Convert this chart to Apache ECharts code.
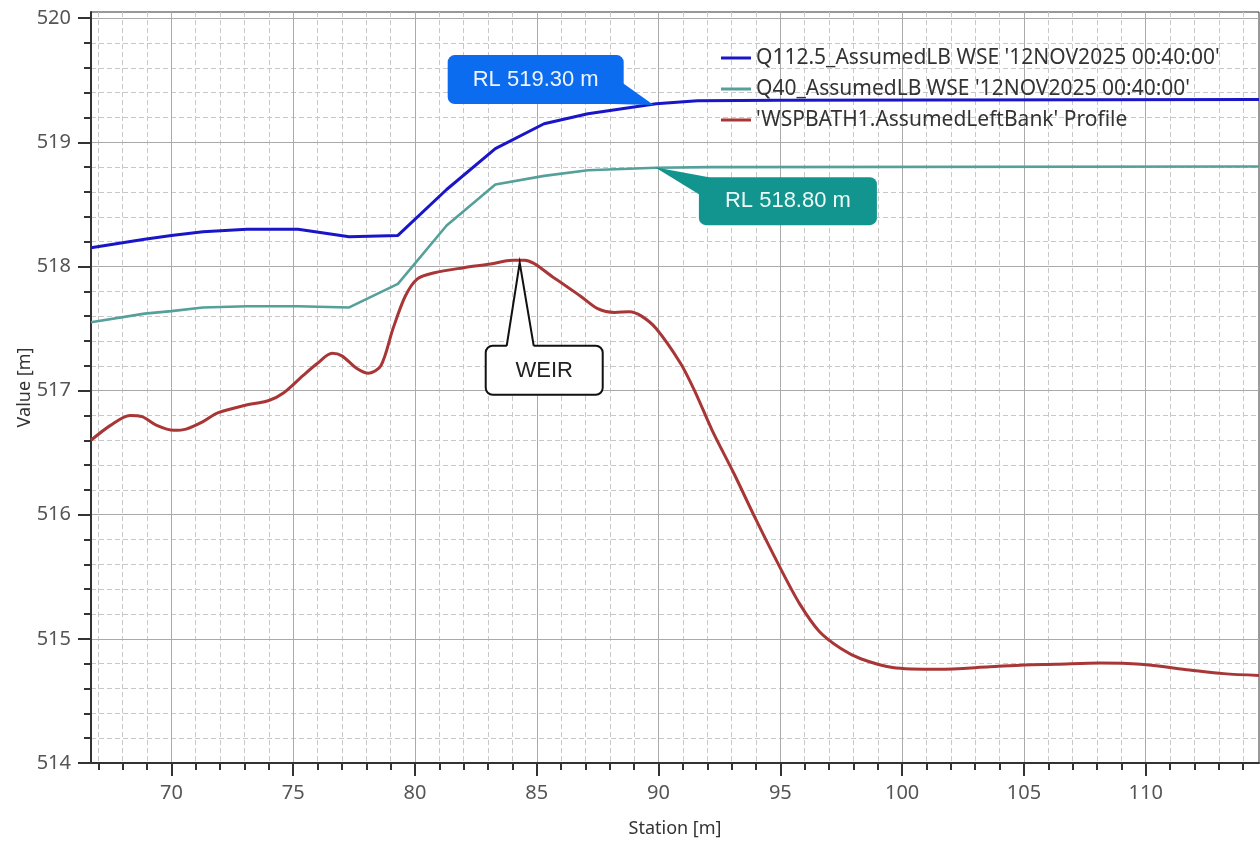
<!DOCTYPE html>
<html>
<head>
<meta charset="utf-8">
<script src="https://cdn.jsdelivr.net/npm/echarts@6/dist/echarts.min.js"></script>
<style>
html,body{margin:0;padding:0;background:#fff;}
#chart{width:1260px;height:843px;}
</style>
</head>
<body>
<div id="chart"></div>
<script>
// ---- Data ----
const seriesNames = [
  "Q112.5_AssumedLB WSE '12NOV2025 00:40:00'",
  "Q40_AssumedLB WSE '12NOV2025 00:40:00'",
  "'WSPBATH1.AssumedLeftBank' Profile"
];
const q112Station = [66.7, 68.9, 70.0, 71.3, 73.1, 75.2, 77.3, 79.3, 81.3, 83.3, 85.3, 87.1, 89.9, 91.6, 95.0, 114.65];
const q112Value   = [518.15, 518.22, 518.25, 518.28, 518.30, 518.30, 518.24, 518.25, 518.62, 518.95, 519.15, 519.23, 519.31, 519.335, 519.34, 519.345];
const q40Station  = [66.7, 68.9, 70.0, 71.3, 73.1, 75.2, 77.3, 79.3, 81.3, 83.3, 85.3, 87.1, 89.9, 92.1, 114.65];
const q40Value    = [517.55, 517.62, 517.64, 517.67, 517.68, 517.68, 517.67, 517.86, 518.33, 518.66, 518.73, 518.775, 518.795, 518.80, 518.805];
const profileStation = [66.7, 67.5, 68.3, 68.8, 69.4, 70.1, 70.6, 71.3, 71.9, 73.0, 74.0, 74.6, 75.4, 76.0, 76.6, 77.0, 77.6, 78.1, 78.6, 79.1, 79.6, 80.1, 80.8, 82.0, 83.1, 84.0, 84.5, 85.7, 86.8, 87.5, 88.2, 88.8, 89.3, 89.9, 90.9, 91.5, 92.2, 93.1, 94.0, 95.0, 95.8, 96.6, 97.5, 98.3, 99.6, 101.5, 103.6, 105.0, 106.3, 108.1, 109.8, 111.8, 113.2, 114.65];
const profileValue   = [516.60, 516.72, 516.80, 516.79, 516.72, 516.68, 516.69, 516.75, 516.82, 516.88, 516.92, 516.98, 517.12, 517.22, 517.30, 517.28, 517.18, 517.14, 517.20, 517.50, 517.76, 517.90, 517.95, 517.99, 518.02, 518.05, 518.05, 517.91, 517.76, 517.66, 517.63, 517.635, 517.60, 517.50, 517.22, 516.99, 516.68, 516.33, 515.96, 515.57, 515.28, 515.06, 514.92, 514.84, 514.77, 514.755, 514.775, 514.79, 514.795, 514.805, 514.795, 514.75, 514.72, 514.705];

const xMajorTicks = [70, 75, 80, 85, 90, 95, 100, 105, 110];
const xMinorTicks = [67, 68, 69, 71, 72, 73, 74, 76, 77, 78, 79, 81, 82, 83, 84, 86, 87, 88, 89, 91, 92, 93, 94, 96, 97, 98, 99, 101, 102, 103, 104, 106, 107, 108, 109, 111, 112, 113, 114];
const yMajorTicks = [514, 515, 516, 517, 518, 519, 520];
const yMinorTicks = [514.2, 514.4, 514.6, 514.8, 515.2, 515.4, 515.6, 515.8, 516.2, 516.4, 516.6, 516.8, 517.2, 517.4, 517.6, 517.8, 518.2, 518.4, 518.6, 518.8, 519.2, 519.4, 519.6, 519.8];

const callouts = [
  {text: 'RL 519.30 m', at: [89.8, 519.30]},
  {text: 'RL 518.80 m', at: [89.85, 518.80]},
  {text: 'WEIR', at: [84.3, 518.03]}
];

const zip = (a, b) => a.map((v, i) => [v, b[i]]);
const X_MIN = 66.7, X_MAX = 114.65, Y_MIN = 514, Y_MAX = 520.05;
const FONT = "'Noto Sans', sans-serif";

const chart = echarts.init(document.getElementById('chart'), null, {renderer: 'canvas'});

const option = {
  animation: false,
  backgroundColor: '#ffffff',
  grid: {left: 91, right: 1, top: 12, bottom: 79, show: true, borderColor: '#333', borderWidth: 1, backgroundColor: 'transparent'},
  legend: {
    orient: 'vertical', left: 716, top: 42, itemGap: 9,
    icon: 'rect', itemWidth: 30, itemHeight: 3,
    textStyle: {fontFamily: FONT, fontSize: 21, color: '#333', lineHeight: 22},
    data: seriesNames
  },
  xAxis: [
    {
      type: 'value', min: X_MIN, max: X_MAX, position: 'bottom', z: 0,
      axisLine: {show: false},
      axisTick: {show: true, customValues: xMinorTicks, length: 7, lineStyle: {color: '#333', width: 2}},
      axisLabel: {show: false},
      splitLine: {show: true, lineStyle: {color: '#c8c8c8', width: 1, type: [5, 3]}}
    },
    {
      type: 'value', min: X_MIN, max: X_MAX, position: 'bottom', z: 1,
      name: 'Station [m]', nameLocation: 'middle', nameGap: 66, nameMoveOverlap: false,
      nameTextStyle: {fontFamily: FONT, fontSize: 18, color: '#333', verticalAlign: 'middle'},
      axisLine: {show: true, onZero: false, lineStyle: {color: '#333', width: 2}},
      axisTick: {show: true, customValues: xMajorTicks, length: 13, lineStyle: {color: '#333', width: 2}},
      axisLabel: {customValues: xMajorTicks, fontFamily: FONT, fontSize: 20, color: '#555', margin: 20},
      splitLine: {show: true, lineStyle: {color: '#aaaaaa', width: 1}}
    }
  ],
  yAxis: [
    {
      type: 'value', min: Y_MIN, max: Y_MAX, position: 'left', z: 0,
      axisLine: {show: false},
      axisTick: {show: true, customValues: yMinorTicks, length: 7, lineStyle: {color: '#333', width: 2}},
      axisLabel: {show: false},
      splitLine: {show: true, lineStyle: {color: '#c8c8c8', width: 1, type: [5, 3]}}
    },
    {
      type: 'value', min: Y_MIN, max: Y_MAX, position: 'left', z: 1,
      name: 'Value [m]', nameLocation: 'middle', nameGap: 66, nameRotate: 90, nameMoveOverlap: false,
      nameTextStyle: {fontFamily: FONT, fontSize: 18, color: '#333', verticalAlign: 'middle'},
      axisLine: {show: true, onZero: false, lineStyle: {color: '#333', width: 2}},
      axisTick: {show: true, customValues: yMajorTicks, length: 13, lineStyle: {color: '#333', width: 2}},
      axisLabel: {customValues: yMajorTicks, fontFamily: FONT, fontSize: 20, color: '#555', margin: 20},
      splitLine: {show: true, lineStyle: {color: '#aaaaaa', width: 1}}
    }
  ],
  series: [
    {
      name: seriesNames[0], type: 'line', xAxisIndex: 1, yAxisIndex: 1,
      data: zip(q112Station, q112Value), showSymbol: false, symbol: 'none',
      lineStyle: {color: '#1a16c8', width: 3}, itemStyle: {color: '#1a16c8'}, z: 4
    },
    {
      name: seriesNames[1], type: 'line', xAxisIndex: 1, yAxisIndex: 1,
      data: zip(q40Station, q40Value), showSymbol: false, symbol: 'none',
      lineStyle: {color: '#55a09a', width: 2.6}, itemStyle: {color: '#55a09a'}, z: 3
    },
    {
      name: seriesNames[2], type: 'line', xAxisIndex: 1, yAxisIndex: 1,
      data: zip(profileStation, profileValue), showSymbol: false, symbol: 'none', smooth: 0.3,
      lineStyle: {color: '#a93636', width: 3}, itemStyle: {color: '#a93636'}, z: 2
    }
  ]
};
chart.setOption(option);

// ---- Callouts anchored to data coordinates ----
function px(pt) { return chart.convertToPixel({xAxisIndex: 1, yAxisIndex: 1}, pt); }
const g = [];
{
  // blue RL 519.30
  const t = px(callouts[0].at);
  const w = 176, h = 49, l = t[0] - 206, tp = t[1] - 50;
  g.push({type: 'rect', shape: {x: l, y: tp, width: w, height: h, r: 7}, style: {fill: '#0b6cf0'}, z: 100});
  g.push({type: 'polygon', shape: {points: [[l + w - 1, tp + 28], [l + w - 10, tp + h], t]}, style: {fill: '#0b6cf0'}, z: 100});
  g.push({type: 'text', x: l + w / 2, y: tp + h / 2, style: {text: callouts[0].text, fill: '#eef4ff', font: "22px 'Liberation Sans', Arial, sans-serif", align: 'center', verticalAlign: 'middle'}, z: 101});
}
{
  // teal RL 518.80
  const t = px(callouts[1].at);
  const w = 178, h = 48, l = t[0] + 44, tp = t[1] + 10;
  g.push({type: 'rect', shape: {x: l, y: tp, width: w, height: h, r: 7}, style: {fill: '#12958e'}, z: 100});
  g.push({type: 'polygon', shape: {points: [[l + 10, tp], [l, tp + 17], t]}, style: {fill: '#12958e'}, z: 100});
  g.push({type: 'text', x: l + w / 2, y: tp + h / 2, style: {text: callouts[1].text, fill: '#eefaf8', font: "22px 'Liberation Sans', Arial, sans-serif", align: 'center', verticalAlign: 'middle'}, z: 101});
}
{
  // WEIR
  const t = px(callouts[2].at);
  const w = 117, h = 49, l = t[0] - 34, tp = t[1] + 83;
  const b1 = [t[0] - 13, tp], b2 = [t[0] + 14, tp];
  g.push({type: 'rect', shape: {x: l, y: tp, width: w, height: h, r: 7}, style: {fill: '#ffffff', stroke: '#111', lineWidth: 2}, z: 100});
  g.push({type: 'polygon', shape: {points: [[b1[0], tp + 1.5], [b2[0], tp + 1.5], t]}, style: {fill: '#ffffff'}, z: 101});
  g.push({type: 'polyline', shape: {points: [b1, t, b2]}, style: {stroke: '#111', lineWidth: 2, fill: null}, z: 102});
  g.push({type: 'text', x: l + w / 2, y: tp + h / 2 + 1, style: {text: callouts[2].text, fill: '#222', font: "22px 'Liberation Sans', Arial, sans-serif", align: 'center', verticalAlign: 'middle'}, z: 103});
}
chart.setOption({graphic: g});
</script>
</body>
</html>
